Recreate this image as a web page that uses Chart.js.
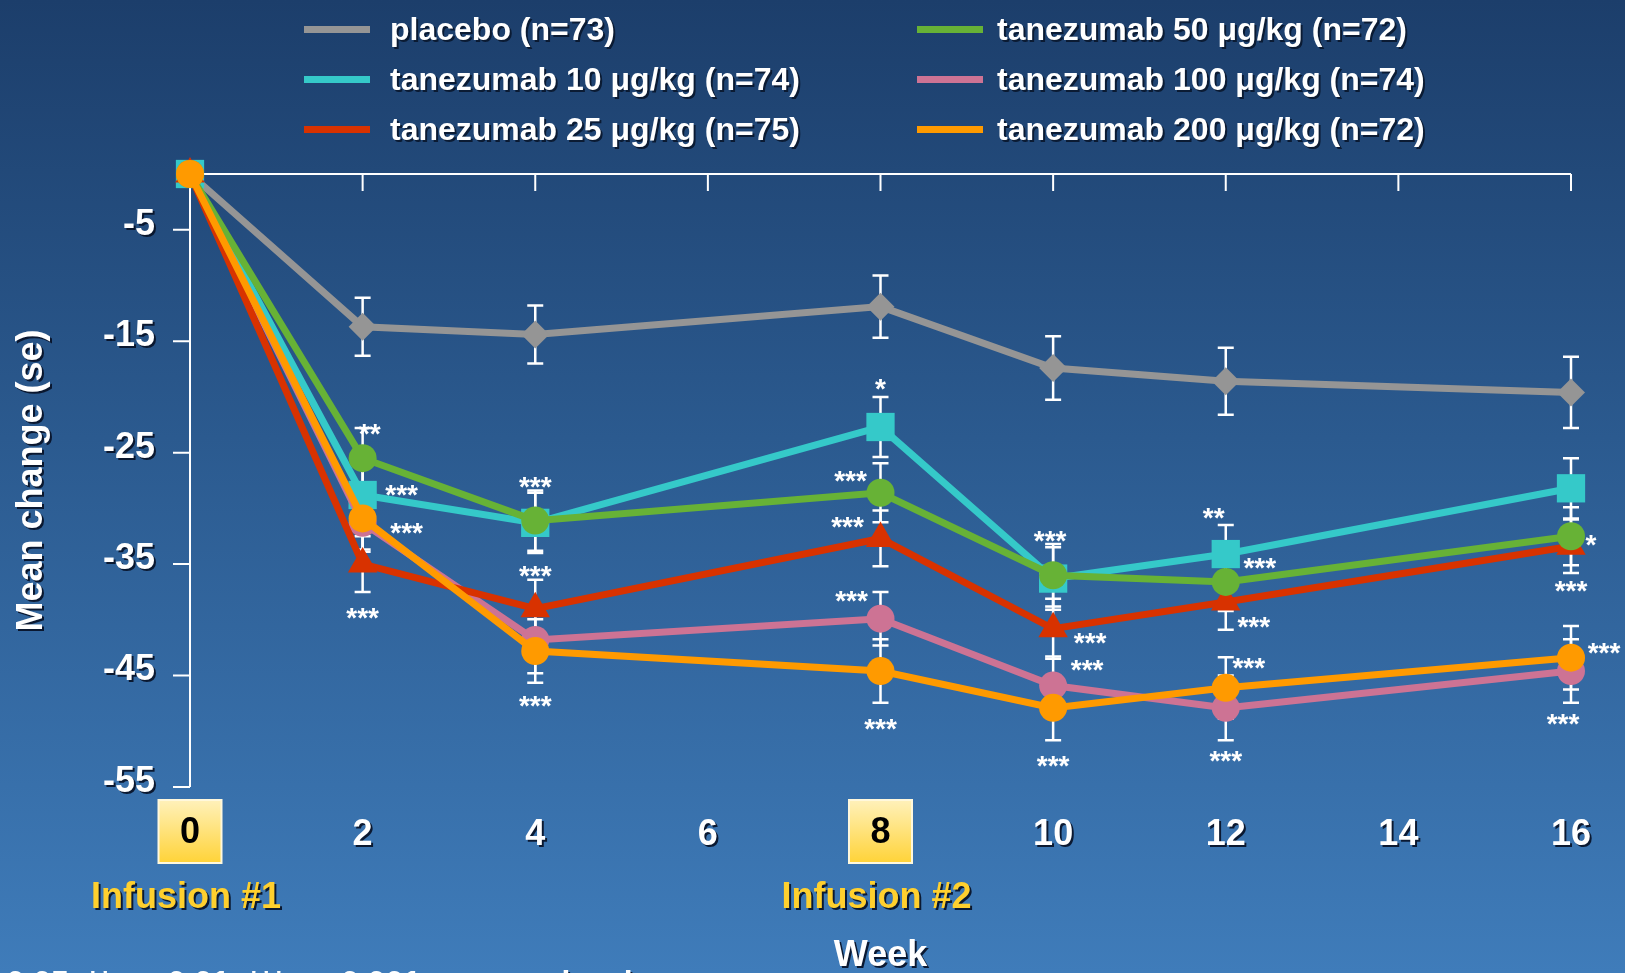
<!DOCTYPE html>
<html>
<head>
<meta charset="utf-8">
<title>Tanezumab – mean change over 16 weeks</title>
<script src="https://cdn.jsdelivr.net/npm/chart.js@4.4.1/dist/chart.umd.min.js"></script>
<style>
  html, body { margin: 0; padding: 0; width: 1625px; height: 973px; overflow: hidden; }
  body {
    position: relative;
    background: linear-gradient(180deg, #1c3e6b 0%, #2b5a8f 45%, #3f7cba 100%);
    font-family: "Liberation Sans", Arial, sans-serif;
  }
  #chart { position: absolute; left: 0; top: 0; }
  .key { position: absolute; height: 40px; display: flex; align-items: center; }
  .key .swatch { width: 66px; height: 7px; }
  .key .name {
    color: #fff; font-weight: bold; font-size: 32px; white-space: nowrap;
    text-shadow: 2px 2px 0 #0b1b33;
  }
</style>
</head>
<body>
<canvas id="chart" width="1625" height="973"></canvas>
<div id="legend"></div>
<script>
// ---- data -------------------------------------------------------------
const weeks = [0, 2, 4, 8, 10, 12, 16];
const xTickValues = [0, 2, 4, 6, 8, 10, 12, 14, 16];
const yTickValues = [-5, -15, -25, -35, -45, -55];
const infusionWeeks = [0, 8];
const infusionLabels = ['Infusion #1', 'Infusion #2'];

const seriesNames = [
  'placebo (n=73)',
  'tanezumab 10 \u03bcg/kg (n=74)',
  'tanezumab 25 \u03bcg/kg (n=75)',
  'tanezumab 50 \u03bcg/kg (n=72)',
  'tanezumab 100 \u03bcg/kg (n=74)',
  'tanezumab 200 \u03bcg/kg (n=72)'
];

// mean change from baseline
const placebo = [0, -13.7, -14.4, -11.9, -17.4, -18.6, -19.6];
const dose10  = [0, -28.8, -31.3, -22.7, -36.3, -34.1, -28.2];
const dose25  = [0, -35.0, -39.0, -32.7, -40.8, -38.4, -33.4];
const dose50  = [0, -25.5, -31.1, -28.6, -36.0, -36.6, -32.5];
const dose100 = [0, -31.3, -41.8, -39.9, -45.9, -47.9, -44.6];
const dose200 = [0, -30.9, -42.8, -44.6, -47.9, -46.1, -43.4];

// standard errors
const sePlacebo = [0, 2.6, 2.6, 2.8, 2.85, 3.0, 3.2];
const se10      = [0, 2.7, 2.7, 2.7, 2.8, 2.6, 2.7];
const se25      = [0, 2.5, 2.6, 2.5, 2.7, 2.5, 2.4];
const se50      = [0, 2.7, 2.7, 2.65, 2.8, 2.6, 2.6];
const se100     = [0, 2.6, 3.0, 2.4, 2.6, 2.9, 2.85];
const se200     = [0, 2.8, 2.85, 2.85, 2.9, 2.75, 2.85];

// significance versus placebo
const sigPlacebo = ['', '', '', '', '', '', ''];
const sig10      = ['', '***', '***', '*', '***', '**', ''];
const sig25      = ['', '***', '***', '***', '***', '***', '***'];
const sig50      = ['', '**', '', '***', '', '***', '*'];
const sig100     = ['', '', '', '***', '***', '***', '***'];
const sig200     = ['', '***', '***', '***', '***', '***', '***'];

const footnote = '*p < 0.05, **p < 0.01, ***p < 0.001 versus placebo';

// ---- styling ----------------------------------------------------------
const FONT = '"Liberation Sans", Arial, sans-serif';
const colors = ['#959595', '#35c9c9', '#d83200', '#67b236', '#cd7394', '#ff9a00'];
const markers = ['rectRot', 'rect', 'triangle', 'circle', 'circle', 'circle'];
const markerRadius = [14, 20, 17, 14, 14, 14];
const drawOrder = [5, 4, 2, 1, 3, 0];
const highlightedWeeks = [0, 8];

// where each asterisk group sits relative to its point (px)
const sigOffsets = [
  [],
  [null, [39, -7], [0, -43], [0, -45], [-3, -45], [-12, -43], null],
  [null, [0, 47], [0, -40], [-33, -18], [37, 7], [28, 18], [0, 38]],
  [null, [7, -31], null, [-30, -19], null, [34, -21], [20, 2]],
  [null, null, null, [-29, -25], [34, -23], [0, 46], [-8, 46]],
  [null, [44, 8], [0, 48], [0, 51], [0, 51], [23, -27], [33, -12]]
];

const seriesValues = [placebo, dose10, dose25, dose50, dose100, dose200];
const seriesErrors = [sePlacebo, se10, se25, se50, se100, se200];
const seriesSig = [sigPlacebo, sig10, sig25, sig50, sig100, sig200];

// ---- legend (two columns) ---------------------------------------------
const legendSlots = [[304, 9, 20], [304, 59, 20], [304, 109, 20], [917, 9, 14], [917, 59, 14], [917, 109, 14]];
const legendBox = document.getElementById('legend');
seriesNames.forEach((name, i) => {
  const el = document.createElement('div');
  el.className = 'key';
  el.style.left = legendSlots[i][0] + 'px';
  el.style.top = legendSlots[i][1] + 'px';
  const sw = document.createElement('span');
  sw.className = 'swatch';
  sw.style.background = colors[i];
  sw.style.marginRight = legendSlots[i][2] + 'px';
  const tx = document.createElement('span');
  tx.className = 'name';
  tx.textContent = name;
  el.appendChild(sw);
  el.appendChild(tx);
  legendBox.appendChild(el);
});

// ---- drawing helpers --------------------------------------------------
function setShadow(ctx, on) {
  ctx.shadowColor = on ? 'rgba(8,20,42,0.95)' : 'rgba(0,0,0,0)';
  ctx.shadowOffsetX = on ? 2 : 0;
  ctx.shadowOffsetY = on ? 2 : 0;
  ctx.shadowBlur = 0;
}

const decor = {
  id: 'decor',
  beforeDraw(chart) {
    const ctx = chart.ctx;
    const xs = chart.scales.x;
    // highlighted infusion weeks on the x axis
    highlightedWeeks.forEach(w => {
      const px = xs.getPixelForValue(w);
      const g = ctx.createLinearGradient(0, 800, 0, 863);
      g.addColorStop(0, '#fff1ba');
      g.addColorStop(1, '#ffd338');
      ctx.save();
      ctx.fillStyle = g;
      ctx.fillRect(px - 31.5, 800, 63, 63);
      ctx.strokeStyle = '#fff8dc';
      ctx.lineWidth = 2;
      ctx.strokeRect(px - 31.5, 800, 63, 63);
      ctx.restore();
    });
    // tick labels and axis titles get a drop shadow
    setShadow(ctx, true);
  },
  beforeDatasetsDraw(chart) {
    const ctx = chart.ctx;
    const xs = chart.scales.x, ys = chart.scales.y;
    const area = chart.chartArea;
    setShadow(ctx, false);
    ctx.save();
    ctx.strokeStyle = '#ffffff';
    ctx.lineWidth = 2;
    ctx.lineCap = 'butt';
    // y axis line with outward ticks
    ctx.beginPath();
    ctx.moveTo(area.left, area.top);
    ctx.lineTo(area.left, area.bottom);
    yTickValues.forEach(v => {
      const py = ys.getPixelForValue(v);
      ctx.moveTo(area.left, py);
      ctx.lineTo(area.left - 17, py);
    });
    // top frame line with inward ticks
    ctx.moveTo(area.left, area.top);
    ctx.lineTo(area.right, area.top);
    xTickValues.forEach(v => {
      if (v === 0) return;
      const px = xs.getPixelForValue(v);
      ctx.moveTo(px, area.top);
      ctx.lineTo(px, area.top + 17);
    });
    ctx.stroke();

    // standard-error bars
    ctx.lineWidth = 2.5;
    seriesValues.forEach((vals, s) => {
      vals.forEach((v, i) => {
        const se = seriesErrors[s][i];
        if (!se) return;
        const px = xs.getPixelForValue(weeks[i]);
        const yHi = ys.getPixelForValue(v + se);
        const yLo = ys.getPixelForValue(v - se);
        ctx.beginPath();
        ctx.moveTo(px, yHi); ctx.lineTo(px, yLo);
        ctx.moveTo(px - 8, yHi); ctx.lineTo(px + 8, yHi);
        ctx.moveTo(px - 8, yLo); ctx.lineTo(px + 8, yLo);
        ctx.stroke();
      });
    });
    ctx.restore();
  },
  afterDatasetsDraw(chart) {
    const ctx = chart.ctx;
    const xs = chart.scales.x, ys = chart.scales.y;
    ctx.save();
    setShadow(ctx, false);
    // significance asterisks
    ctx.fillStyle = '#ffffff';
    ctx.font = 'bold 28px ' + FONT;
    ctx.textAlign = 'center';
    ctx.textBaseline = 'alphabetic';
    seriesSig.forEach((marks, s) => {
      marks.forEach((m, i) => {
        const off = sigOffsets[s][i];
        if (!m || !off) return;
        const px = xs.getPixelForValue(weeks[i]) + off[0];
        const py = ys.getPixelForValue(seriesValues[s][i]) + off[1];
        ctx.fillText(m, px, py + 16);
      });
    });
    // boxed week labels: dark text, no shadow
    ctx.font = 'bold 36px ' + FONT;
    ctx.fillStyle = '#000000';
    ctx.textBaseline = 'middle';
    xs.ticks.forEach(t => {
      if (!highlightedWeeks.includes(t.value)) return;
      ctx.fillText(t.label, xs.getPixelForValue(t.value), 833);
    });
    // infusion captions under the x axis
    setShadow(ctx, true);
    ctx.fillStyle = '#ffd02e';
    infusionWeeks.forEach((w, i) => {
      ctx.fillText(infusionLabels[i], xs.getPixelForValue(w) - 4, 898);
    });
    // footnote along the bottom edge
    ctx.fillStyle = '#ffffff';
    ctx.font = 'bold 32px ' + FONT;
    ctx.textAlign = 'left';
    ctx.textBaseline = 'alphabetic';
    ctx.fillText(footnote, -62, 993);
    ctx.restore();
  }
};

// ---- chart ------------------------------------------------------------
const datasets = seriesNames.map((name, s) => ({
  label: name,
  data: weeks.map((w, i) => ({ x: w, y: seriesValues[s][i] })),
  borderColor: colors[s],
  backgroundColor: colors[s],
  borderWidth: 7,
  pointStyle: markers[s],
  pointRadius: markerRadius[s],
  pointBackgroundColor: colors[s],
  pointBorderColor: colors[s],
  pointBorderWidth: 0,
  tension: 0,
  clip: false,
  order: drawOrder[s]
}));

new Chart(document.getElementById('chart'), {
  type: 'line',
  data: { datasets },
  options: {
    responsive: false,
    devicePixelRatio: 1,
    animation: false,
    events: [],
    layout: { padding: { top: 174, right: 54, bottom: 0, left: 0 } },
    plugins: { legend: { display: false }, tooltip: { enabled: false } },
    scales: {
      x: {
        type: 'linear',
        position: 'bottom',
        min: 0,
        max: 16,
        afterBuildTicks: s => { s.ticks = xTickValues.map(v => ({ value: v })); },
        afterFit: s => { s.height = 186; },
        grid: { display: false, drawTicks: false },
        border: { display: false },
        ticks: {
          autoSkip: false,
          maxRotation: 0,
          padding: 26,
          color: c => highlightedWeeks.includes(c.tick.value) ? 'rgba(0,0,0,0)' : '#ffffff',
          font: { family: FONT, size: 36, weight: 'bold' }
        },
        title: {
          display: true,
          text: 'Week',
          color: '#ffffff',
          font: { family: FONT, size: 36, weight: 'bold' },
          padding: { top: 0, bottom: -5 }
        }
      },
      y: {
        type: 'linear',
        min: -55,
        max: 0,
        afterBuildTicks: s => { s.ticks = yTickValues.map(v => ({ value: v })); },
        afterFit: s => { s.width = 190; },
        grid: { display: false, drawTicks: false },
        border: { display: false },
        ticks: {
          padding: 35,
          labelOffset: -5,
          color: '#ffffff',
          font: { family: FONT, size: 36, weight: 'bold' }
        },
        title: {
          display: true,
          text: 'Mean change (se)',
          color: '#ffffff',
          font: { family: FONT, size: 36, weight: 'bold' },
          padding: { top: 10, bottom: 0 }
        }
      }
    }
  },
  plugins: [decor]
});
</script>
</body>
</html>
